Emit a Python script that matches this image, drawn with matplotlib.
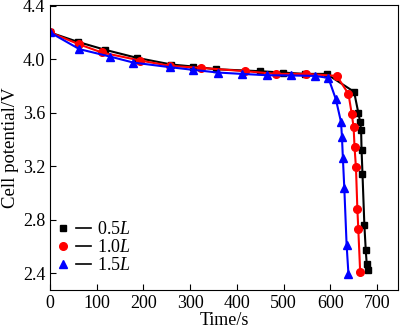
import matplotlib
matplotlib.use("Agg")
import matplotlib.pyplot as plt
from matplotlib.lines import Line2D
from matplotlib.legend_handler import HandlerTuple
from matplotlib.ticker import FormatStrFormatter

plt.rcParams['font.family'] = ['Liberation Serif', 'DejaVu Serif']
plt.rcParams['mathtext.fontset'] = 'custom'
plt.rcParams['mathtext.it'] = 'Liberation Serif:italic'
plt.rcParams['mathtext.rm'] = 'Liberation Serif'

t_05 = [0, 59, 118, 186, 260, 307, 355, 450, 498, 545, 592, 651, 660, 664, 666, 667, 669, 673, 676, 678, 680]
v_05 = [4.20, 4.13, 4.07, 4.01, 3.96, 3.945, 3.925, 3.91, 3.90, 3.89, 3.89, 3.756, 3.60, 3.53, 3.47, 3.32, 3.14, 2.76, 2.57, 2.47, 2.42]

t_10 = [0, 63, 111, 193, 257, 323, 418, 484, 548, 614, 639, 646, 650, 652, 655, 658, 660, 664]
v_10 = [4.20, 4.11, 4.05, 3.99, 3.95, 3.935, 3.91, 3.89, 3.89, 3.875, 3.74, 3.59, 3.49, 3.34, 3.19, 2.88, 2.73, 2.41]

t_15 = [0, 63, 128, 178, 257, 307, 360, 410, 464, 515, 567, 596, 612, 623, 625, 627, 630, 635, 639]
v_15 = [4.20, 4.075, 4.02, 3.975, 3.94, 3.92, 3.90, 3.89, 3.88, 3.878, 3.875, 3.86, 3.70, 3.53, 3.42, 3.26, 3.04, 2.61, 2.39]

labels = [r'0.5$L$', r'1.0$L$', r'1.5$L$']
colors = ['black', 'red', 'blue']
markers = ['s', 'o', '^']
msizes = [4.5, 5.5, 5.5]

fig = plt.figure(figsize=(4.0, 3.35), dpi=100)
ax = fig.add_axes([0.125, 0.134, 0.87, 0.851])

series = [(t_05, v_05), (t_10, v_10), (t_15, v_15)]
for (t, v), c, m, ms in zip(series, colors, markers, msizes):
    ax.plot(t, v, color=c, marker=m, markersize=ms, linewidth=1.5)

handles = []
for c, m, ms in zip(colors, markers, msizes):
    mk = Line2D([], [], color=c, marker=m, markersize=ms, linestyle='none')
    ln = Line2D([], [], color='black', linewidth=1.2)
    handles.append((mk, ln))

ax.legend(handles, labels, handler_map={tuple: HandlerTuple(ndivide=2, pad=0.3)},
          loc='lower left', bbox_to_anchor=(-0.022, 0.012), frameon=False,
          fontsize=13, handlelength=2.0, handletextpad=0.3, labelspacing=0.05,
          borderaxespad=0.3)

ax.set_xlim(0, 745)
ax.set_ylim(2.273, 4.405)
ax.set_xticks(range(0, 701, 100))
ax.set_yticks([2.4, 2.8, 3.2, 3.6, 4.0, 4.4])
ax.yaxis.set_major_formatter(FormatStrFormatter('%.1f'))
ax.tick_params(direction='in', labelsize=13, length=4, width=0.8)
ax.set_xlabel('Time/s', fontsize=13, labelpad=0)
ax.set_ylabel('Cell potential/V', fontsize=13.5, labelpad=3)
for s in ax.spines.values():
    s.set_linewidth(0.8)

fig.savefig('out.png', dpi=100)
